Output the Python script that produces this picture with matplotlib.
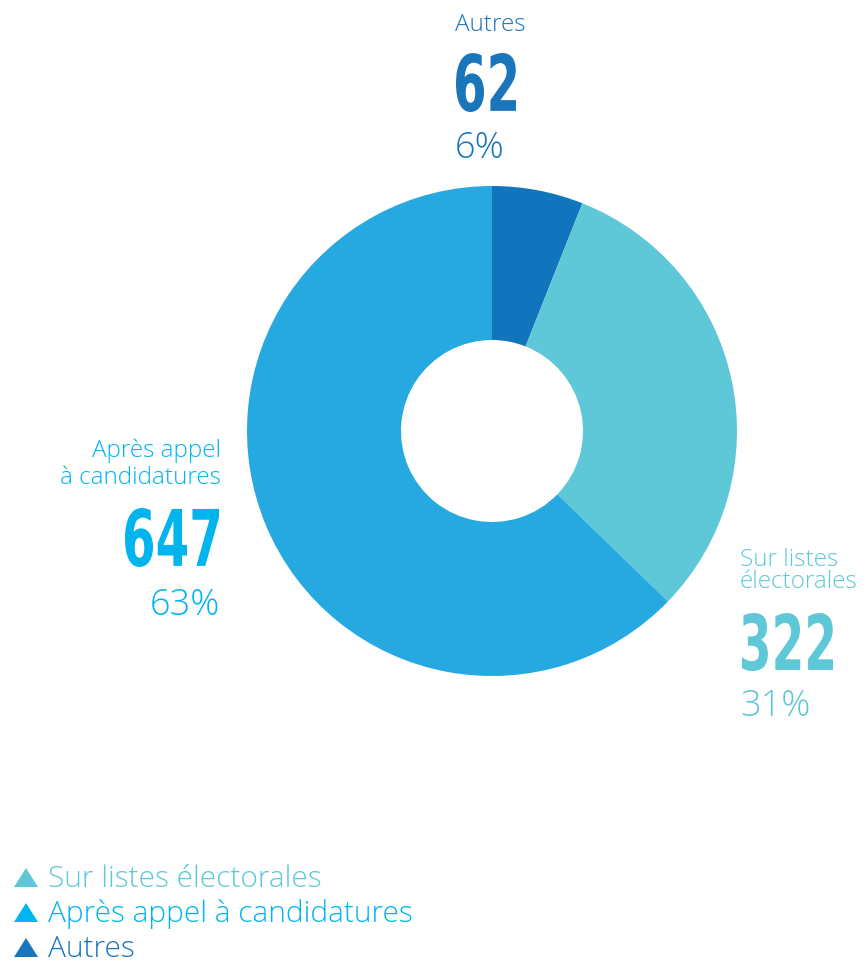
import matplotlib.pyplot as plt
from matplotlib.patches import Polygon, PathPatch
from matplotlib.textpath import TextPath
from matplotlib.font_manager import FontProperties
from matplotlib.transforms import Affine2D

# data
categories = ["Sur listes électorales", "Après appel à candidatures", "Autres"]
values = [322, 647, 62]
percents = [31, 63, 6]
slice_colors = ["#5fc8d8", "#25a9e0", "#1175be"]
text_colors = ["#5fc8d8", "#00b5ee", "#1a75bb"]

W, H = 866, 963
fig = plt.figure(figsize=(W / 100, H / 100), dpi=100)
ax = fig.add_axes([0, 0, 1, 1])

# pie order: Autres first at the top, then clockwise
order = [2, 0, 1]
cx, cy = 492, H - 431
R, r_in = 245, 91
ax.pie([values[i] for i in order], colors=[slice_colors[i] for i in order],
       startangle=90, counterclock=False, center=(cx, cy), radius=R,
       wedgeprops=dict(width=R - r_in, linewidth=0), frame=True)
ax.set_xlim(0, W)
ax.set_ylim(0, H)
ax.set_aspect("equal")
ax.axis("off")

light = ["Open Sans", "DejaVu Sans"]
bold_prop = FontProperties(family="DejaVu Sans", weight="bold")


def big_number(s, x0, x1, ytop, ybot, col):
    # condensed bold figures: squeeze the glyph outline into its box
    tp = TextPath((0, 0), s, size=100, prop=bold_prop)
    ext = tp.get_extents()
    tr = (Affine2D().translate(-ext.x0, -ext.y0)
          .scale((x1 - x0) / ext.width, (ybot - ytop) / ext.height)
          .translate(x0, H - ybot))
    ax.add_patch(PathPatch(tr.transform_path(tp), color=col, lw=0))


def txt(x, ybase, s, ha, size, col):
    ax.text(x, H - ybase, s, ha=ha, va="baseline", fontsize=size, color=col,
            family=light, fontweight="light")


# Autres (top)
txt(490, 31, "Autres", "center", 17.5, text_colors[2])
big_number(str(values[2]), 456, 516, 53, 112, text_colors[2])
txt(480, 158, f"{percents[2]}%", "center", 26, text_colors[2])

# Après appel à candidatures (left)
txt(221, 457, "Après appel", "right", 17.5, text_colors[1])
txt(221, 484, "à candidatures", "right", 17.5, text_colors[1])
big_number(str(values[1]), 125, 219, 508, 567, text_colors[1])
txt(220, 615, f"{percents[1]}%", "right", 26, text_colors[1])

# Sur listes électorales (right)
txt(740, 566, "Sur listes", "left", 17.5, text_colors[0])
txt(740, 588, "électorales", "left", 17.5, text_colors[0])
big_number(str(values[0]), 742, 833, 613, 671, text_colors[0])
txt(740, 716, f"{percents[0]}%", "left", 26, text_colors[0])

# legend with triangle markers
bases = [887, 922, 957]
for lab, col, yb in zip(categories, text_colors, bases):
    y0 = H - yb
    tcol = slice_colors[0] if lab == categories[0] else col
    ax.add_patch(Polygon([[14, y0], [38, y0], [26, y0 + 19]], closed=True,
                         color=tcol, lw=0))
    txt(48, yb, lab, "left", 21.5, col)

fig.savefig("out.png", dpi=100, facecolor="white")
